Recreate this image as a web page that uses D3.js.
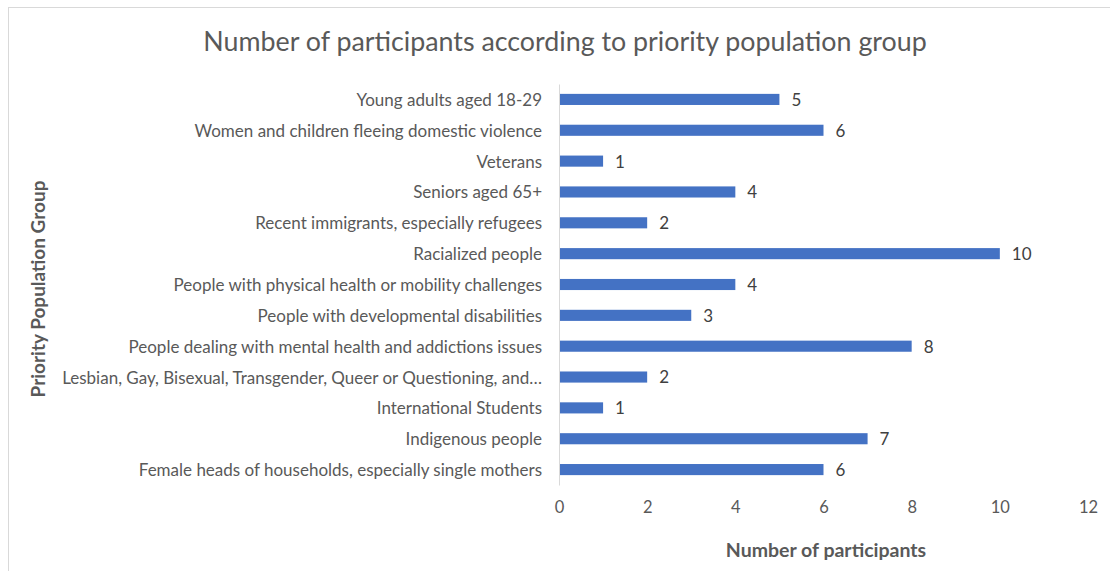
<!DOCTYPE html>
<html>
<head>
<meta charset="utf-8">
<script src="https://cdn.jsdelivr.net/npm/d3@7"></script>
<style>
  body { margin: 0; background: #fff; }
  text { font-family: Lato, "Open Sans", sans-serif; }
</style>
</head>
<body>
<div id="chart"></div>
<script>
// categories top to bottom, as shown
const groups = [
  "Young adults aged 18-29",
  "Women and children fleeing domestic violence",
  "Veterans",
  "Seniors aged 65+",
  "Recent immigrants, especially refugees",
  "Racialized people",
  "People with physical health or mobility challenges",
  "People with developmental disabilities",
  "People dealing with mental health and addictions issues",
  "Lesbian, Gay, Bisexual, Transgender, Queer or Questioning, and\u2026",
  "International Students",
  "Indigenous people",
  "Female heads of households, especially single mothers"
];
const participants = [5, 6, 1, 4, 2, 10, 4, 3, 8, 2, 1, 7, 6];
const xTicks = [0, 2, 4, 6, 8, 10, 12];

const width = 1110;
const height = 571;
const font = 'Lato, "Open Sans", sans-serif';

const svg = d3.select("#chart")
  .append("svg")
  .attr("width", width)
  .attr("height", height);

// chart frame (only left and top edges visible in the crop)
svg.append("rect")
  .attr("x", 8.5)
  .attr("y", 7.5)
  .attr("width", 1200)
  .attr("height", 700)
  .attr("fill", "none")
  .attr("stroke", "#d9d9d9");

const x = d3.scaleLinear().domain([0, 12]).range([559, 1088]);
const y = d3.scaleBand().domain(groups).range([84, 485]).paddingInner(0.64).paddingOuter(0.32);

// title
svg.append("text")
  .attr("x", 565)
  .attr("y", 51)
  .attr("text-anchor", "middle")
  .attr("font-size", 26.8)
  .attr("fill", "#595959")
  .text("Number of participants according to priority population group");

// bars
svg.selectAll(".bar")
  .data(groups)
  .enter()
  .append("rect")
  .attr("class", "bar")
  .attr("x", x(0))
  .attr("y", d => y(d))
  .attr("width", (d, i) => x(participants[i]) - x(0))
  .attr("height", y.bandwidth())
  .attr("fill", "#4472c4");

// value labels
svg.selectAll(".val")
  .data(groups)
  .enter()
  .append("text")
  .attr("class", "val")
  .attr("x", (d, i) => x(participants[i]) + 12)
  .attr("y", d => y(d) + y.bandwidth() / 2)
  .attr("dy", "0.38em")
  .attr("font-size", 17)
  .attr("fill", "#404040")
  .text((d, i) => participants[i]);

// y axis
const yAxis = svg.append("g")
  .attr("transform", `translate(${x(0)},0)`)
  .call(d3.axisLeft(y).tickSize(0).tickPadding(17));
yAxis.select(".domain").attr("stroke", "#d9d9d9");
yAxis.selectAll("text")
  .attr("font-size", 17)
  .attr("dy", "0.38em")
  .attr("fill", "#595959")
  .style("font-family", font);

// x axis (labels only)
const xAxis = svg.append("g")
  .attr("transform", "translate(0,501)")
  .call(d3.axisBottom(x).tickValues(xTicks).tickSize(0).tickPadding(0));
xAxis.select(".domain").remove();
xAxis.selectAll("text")
  .attr("font-size", 16.5)
  .attr("fill", "#595959")
  .style("font-family", font);

// axis titles
svg.append("text")
  .attr("x", 826)
  .attr("y", 557)
  .attr("text-anchor", "middle")
  .attr("font-size", 19.5)
  .attr("font-weight", "bold")
  .attr("fill", "#595959")
  .text("Number of participants");

svg.append("text")
  .attr("transform", "translate(45,289) rotate(-90)")
  .attr("text-anchor", "middle")
  .attr("font-size", 19)
  .attr("font-weight", "bold")
  .attr("fill", "#595959")
  .text("Priority Population Group");
</script>
</body>
</html>
